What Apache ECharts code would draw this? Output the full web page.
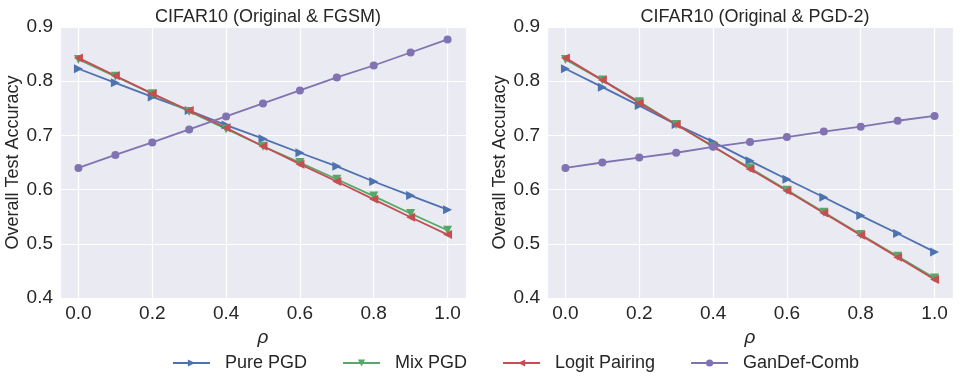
<!DOCTYPE html>
<html>
<head>
<meta charset="utf-8">
<script src="https://cdn.jsdelivr.net/npm/echarts@6/dist/echarts.min.js"></script>
<style>
  html, body { margin: 0; padding: 0; background: #fff; }
  #chart { width: 960px; height: 386px; }
</style>
</head>
<body>
<div id="chart"></div>
<script>
  // rho values shared by both panels
  const rho = [0.0, 0.1, 0.2, 0.3, 0.4, 0.5, 0.6, 0.7, 0.8, 0.9, 1.0];
  const seriesNames = ['Pure PGD', 'Mix PGD', 'Logit Pairing', 'GanDef-Comb'];
  const panelTitles = ['CIFAR10 (Original & FGSM)', 'CIFAR10 (Original & PGD-2)'];

  // left panel: Original & FGSM
  const fgsmPure  = [0.823, 0.797, 0.771, 0.746, 0.719, 0.694, 0.668, 0.643, 0.615, 0.589, 0.563];
  const fgsmMix   = [0.840, 0.809, 0.777, 0.744, 0.712, 0.680, 0.650, 0.619, 0.588, 0.556, 0.525];
  const fgsmLogit = [0.843, 0.810, 0.777, 0.746, 0.714, 0.680, 0.647, 0.615, 0.582, 0.549, 0.517];
  const fgsmGan   = [0.640, 0.664, 0.687, 0.711, 0.735, 0.759, 0.783, 0.807, 0.829, 0.853, 0.877];

  // right panel: Original & PGD-2
  const pgdPure  = [0.823, 0.789, 0.755, 0.720, 0.688, 0.653, 0.619, 0.586, 0.552, 0.519, 0.485];
  const pgdMix   = [0.840, 0.802, 0.762, 0.720, 0.679, 0.640, 0.599, 0.558, 0.517, 0.477, 0.437];
  const pgdLogit = [0.843, 0.802, 0.760, 0.720, 0.680, 0.638, 0.598, 0.557, 0.516, 0.475, 0.434];
  const pgdGan   = [0.640, 0.650, 0.659, 0.668, 0.679, 0.688, 0.697, 0.707, 0.716, 0.727, 0.736];

  const colors = ['#4C72B0', '#55A868', '#C44E52', '#8172B2'];
  // triangle points up by default: > v < o
  const symbols = ['triangle', 'triangle', 'triangle', 'circle'];
  const rotations = [-90, 180, 90, 0];
  const textColor = '#262626';
  const font = 'Liberation Sans, Arial, sans-serif';

  const chart = echarts.init(document.getElementById('chart'));

  const grids = [
    { left: 60, right: 494, top: 27, bottom: 88 },
    { left: 547, right: 7, top: 27, bottom: 88 }
  ];

  const makeX = (i) => ({
    type: 'value',
    gridIndex: i,
    min: -0.05,
    max: 1.05,
    splitNumber: 5,
    name: 'ρ',
    nameLocation: 'middle',
    nameGap: 27,
    nameTextStyle: { color: textColor, fontSize: 19, fontStyle: 'italic', fontFamily: font },
    axisLine: { show: false },
    axisTick: { show: false },
    axisLabel: {
      color: textColor, fontSize: 19, fontFamily: font, margin: 6,
      showMinLabel: false, showMaxLabel: false,
      formatter: v => v.toFixed(1)
    },
    splitLine: { show: true, lineStyle: { color: '#ffffff', width: 1.2 } }
  });

  const makeY = (i) => ({
    type: 'value',
    gridIndex: i,
    min: 0.4,
    max: 0.9,
    interval: 0.1,
    name: 'Overall Test Accuracy',
    nameLocation: 'middle',
    nameGap: 38,
    nameTextStyle: { color: textColor, fontSize: 18, fontFamily: font },
    axisLine: { show: false },
    axisTick: { show: false },
    axisLabel: { color: textColor, fontSize: 19, fontFamily: font, margin: 7, formatter: v => v.toFixed(1) },
    splitLine: { show: true, lineStyle: { color: '#ffffff', width: 1.2 } }
  });

  const makeSeries = (name, data, k, gi) => ({
    name: name,
    type: 'line',
    xAxisIndex: gi,
    yAxisIndex: gi,
    data: rho.map((r, j) => [r, data[j]]),
    symbol: symbols[k],
    symbolRotate: rotations[k],
    symbolSize: k === 3 ? 8 : 9,
    showAllSymbol: true,
    lineStyle: { width: 1.8, color: colors[k] },
    itemStyle: { color: colors[k] },
    emphasis: { disabled: true },
    animation: false
  });

  const leftData = [fgsmPure, fgsmMix, fgsmLogit, fgsmGan];
  const rightData = [pgdPure, pgdMix, pgdLogit, pgdGan];
  const series = [];
  leftData.forEach((d, k) => series.push(makeSeries(seriesNames[k], d, k, 0)));
  rightData.forEach((d, k) => series.push(makeSeries(seriesNames[k], d, k, 1)));

  chart.setOption({
    backgroundColor: '#ffffff',
    color: colors,
    title: [
      { text: panelTitles[0], left: 263, top: 3, textAlign: 'center',
        textStyle: { color: textColor, fontSize: 18, fontWeight: 'normal', fontFamily: font } },
      { text: panelTitles[1], left: 750, top: 3, textAlign: 'center',
        textStyle: { color: textColor, fontSize: 18, fontWeight: 'normal', fontFamily: font } }
    ],
    grid: grids.map(g => Object.assign({ show: true, backgroundColor: '#EAEAF2', borderWidth: 0 }, g)),
    xAxis: [makeX(0), makeX(1)],
    yAxis: [makeY(0), makeY(1)],
    legend: {
      data: seriesNames,
      left: 172,
      top: 354,
      padding: 0,
      itemWidth: 37,
      itemHeight: 9,
      itemGap: 35,
      textStyle: { color: textColor, fontSize: 18, fontFamily: font, padding: [0, 0, 0, 10] }
    },
    series: series
  });

  window.onresize = function () {
    chart.resize();
  };
</script>
</body>
</html>
